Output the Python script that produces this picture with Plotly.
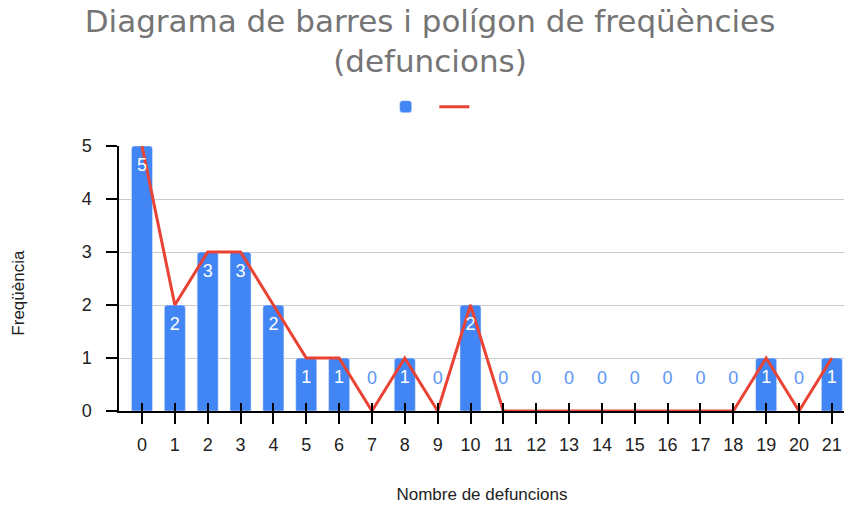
import plotly.graph_objects as go

categories = list(range(22))
frequencies = [5, 2, 3, 3, 2, 1, 1, 0, 1, 0, 2, 0, 0, 0, 0, 0, 0, 0, 0, 1, 0, 1]
tick_labels = [str(c) for c in categories]

BLUE = "#4285F4"
RED = "#EA4335"
FONT = "Arial, Liberation Sans, sans-serif"

label_y = [v - 0.38 if v > 0 else 0.6 for v in frequencies]
label_color = ["white" if v > 0 else "#5B95F5" for v in frequencies]

fig = go.Figure()
fig.add_trace(go.Bar(
    x=categories, y=frequencies, name=" ", marker=dict(color=BLUE, cornerradius=3),
    width=0.64, hoverinfo="x+y",
))
fig.add_trace(go.Scatter(
    x=categories, y=frequencies, name=" ", mode="lines",
    line=dict(color=RED, width=3), cliponaxis=False,
))
fig.add_trace(go.Scatter(
    x=categories, y=label_y, mode="text", text=[str(v) for v in frequencies],
    textfont=dict(color=label_color, size=18, family=FONT),
    showlegend=False, hoverinfo="skip", xaxis="x2",
))

xrange = [-0.7, 21.4]
# The page body adds an 8px offset, so the figure is 8px smaller each way.
fig.update_layout(
    width=844, height=503,
    margin=dict(l=111, r=7, t=138, b=100),
    paper_bgcolor="white", plot_bgcolor="white",
    title=dict(
        text="Diagrama de barres i polígon de freqüències<br>(defuncions)",
        x=0.5, xanchor="center", xref="container",
        y=0.953, yanchor="top", yref="container", pad=dict(t=0, b=0),
        font=dict(size=31, color="#757575", family="DejaVu Sans, sans-serif"),
    ),
    showlegend=True,
    legend=dict(orientation="h", xref="container", x=0.4475, xanchor="left",
                yref="container", y=0.803, yanchor="middle",
                font=dict(size=14), itemwidth=30),
    xaxis=dict(
        range=xrange, tickvals=categories, ticktext=tick_labels,
        showgrid=False, zeroline=False, showline=True, linecolor="black", linewidth=1.5,
        ticks="outside", ticklen=11, tickcolor="black", tickwidth=1.5,
        ticklabelstandoff=6,
        tickfont=dict(size=18, color="#222222", family=FONT),
        title=dict(text="Nombre de defuncions", standoff=34,
                   font=dict(size=17, color="#222222", family=FONT)),
        fixedrange=True,
    ),
    xaxis2=dict(
        range=xrange, overlaying="x", side="bottom", tickvals=categories,
        showticklabels=False, showgrid=False, zeroline=False, showline=False,
        ticks="inside", ticklen=8, tickcolor="black", tickwidth=1.5,
    ),
    yaxis=dict(
        range=[0, 5], tickvals=[0, 1, 2, 3, 4, 5],
        showgrid=True, gridcolor="#CCCCCC", gridwidth=1,
        zeroline=False, showline=True, linecolor="black", linewidth=1.5,
        ticks="outside", ticklen=11, tickcolor="black", tickwidth=1.5,
        ticklabelstandoff=11,
        tickfont=dict(size=18, color="#222222", family=FONT),
    ),
    annotations=[dict(
        text="Freqüència", textangle=-90, xref="paper", x=-0.139,
        yref="paper", y=0.447, showarrow=False, xanchor="center", yanchor="middle",
        font=dict(size=17, color="#222222", family=FONT),
    )],
    bargap=0.36,
)

fig.write_html("out.html")
